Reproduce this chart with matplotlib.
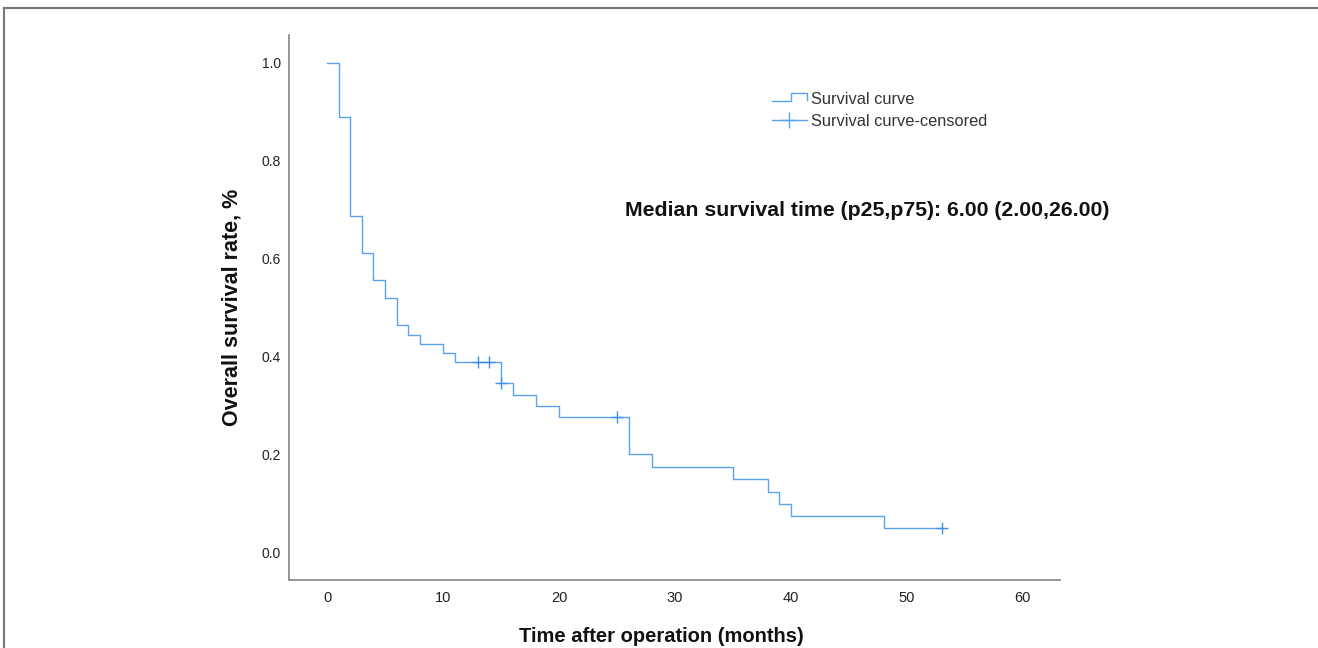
import matplotlib
matplotlib.use("Agg")
import matplotlib.pyplot as plt
from matplotlib.lines import Line2D
from matplotlib.legend_handler import HandlerBase

# Kaplan-Meier steps
times = [0, 1, 2, 3, 4, 5, 6, 7, 8, 10, 11, 15, 16, 18, 20, 26, 28, 35, 38, 39, 40, 48, 53]
surv = [1.0, 0.889, 0.687, 0.611, 0.556, 0.519, 0.464, 0.444, 0.426, 0.407, 0.389,
        0.346, 0.321, 0.299, 0.276, 0.200, 0.174, 0.149, 0.123, 0.098, 0.074, 0.049, 0.049]
cens_t = [13, 14, 15, 25, 53]
cens_s = [0.389, 0.389, 0.346, 0.276, 0.049]
xticks = [0, 10, 20, 30, 40, 50, 60]
yticks = [0.0, 0.2, 0.4, 0.6, 0.8, 1.0]

BLUE = "#5aa2f2"
SANS = ["Liberation Sans", "DejaVu Sans"]
NARROW = ["Liberation Sans Narrow", "Liberation Sans", "DejaVu Sans"]
W, H = 1318, 648


class StepHandler(HandlerBase):
    def create_artists(self, legend, orig_handle, xdescent, ydescent, width, height, fontsize, trans):
        x0 = -xdescent
        xm = x0 + width * 0.55
        x1 = x0 + width
        ylo = -ydescent + height * 0.25
        yhi = -ydescent + height * 0.95
        ln = Line2D([x0, xm, xm, x1, x1], [ylo, ylo, yhi, yhi, ylo * 1.4],
                    color=BLUE, lw=1.0, transform=trans)
        return [ln]


fig = plt.figure(figsize=(W / 100, H / 100), dpi=100)
ax = fig.add_axes([289 / W, 68 / H, 771 / W, 545 / H])

curve, = ax.step(times, surv, where="post", color=BLUE, lw=1.0)
cens, = ax.plot(cens_t, cens_s, ls="none", marker="+", ms=9, mew=1.0, color="#3d8ee8")

ax.set_xlim(-3.28, 63.2)
ax.set_ylim(-0.057, 1.057)
ax.set_xticks(xticks)
ax.set_yticks(yticks)
ax.set_xticklabels([str(t) for t in xticks], family=NARROW, fontsize=10.5, color="#222222")
ax.set_yticklabels([f"{v:.1f}" for v in yticks], family=SANS, fontsize=10, color="#222222")
ax.tick_params(axis="x", length=0, pad=8)
ax.tick_params(axis="y", length=0, pad=6)
for s in ["top", "right"]:
    ax.spines[s].set_visible(False)
for s in ["left", "bottom"]:
    ax.spines[s].set_color("#8c8c8c")
    ax.spines[s].set_linewidth(1.3)

leg_step = Line2D([], [], color=BLUE, lw=1.0)
leg_cens = Line2D([], [], color=BLUE, lw=1.0, marker="+", ms=11, mew=1.0)
ax.legend([leg_step, leg_cens], ["Survival curve", "Survival curve-censored"],
          handler_map={leg_step: StepHandler()}, loc="upper left",
          bbox_to_anchor=(764 / W, 1 - 84 / H), bbox_transform=fig.transFigure,
          frameon=False, borderpad=0, handlelength=2.1, handletextpad=0.25,
          labelspacing=0.42, prop={"family": SANS, "size": 11.8}, labelcolor="#333333")

fig.text(625 / W, 1 - 210 / H, "Median survival time (p25,p75): 6.00 (2.00,26.00)",
         ha="left", va="center", fontsize=15.3, weight="bold", family=SANS, color="#111111")

fig.text(232 / W, 1 - 307 / H, "Overall survival rate, %", rotation=90, ha="center",
         va="center", fontsize=15.5, weight="bold", family=SANS, color="#111111")
fig.text(661 / W, 1 - 636 / H, "Time after operation (months)", ha="center", va="center",
         fontsize=14.5, weight="bold", family=NARROW, color="#111111")

# outer frame (top and left edges)
fig.add_artist(Line2D([4 / W, 1], [1 - 8 / H, 1 - 8 / H], transform=fig.transFigure,
                      color="#777777", lw=1.5))
fig.add_artist(Line2D([4 / W, 4 / W], [0, 1 - 8 / H], transform=fig.transFigure,
                      color="#777777", lw=1.5))

fig.savefig("out.png", dpi=100)
